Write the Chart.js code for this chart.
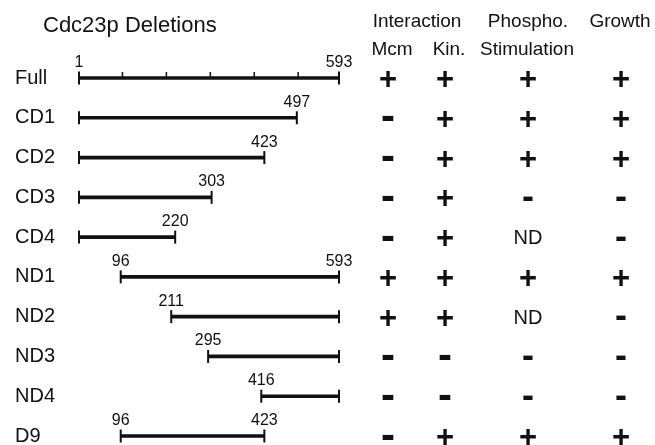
<!DOCTYPE html>
<html>
<head>
<meta charset="utf-8">
<script src="https://cdn.jsdelivr.net/npm/chart.js@4.4.0/dist/chart.umd.min.js"></script>
<style>
  html, body { margin: 0; padding: 0; background: #fff; }
  #wrap { width: 655px; height: 445px; position: relative; }
</style>
</head>
<body>
<div id="wrap"><canvas id="deletionChart"></canvas></div>
<script>
// Konstruk dan sisa residu (1..593)
const rowNames = ['Full', 'CD1', 'CD2', 'CD3', 'CD4', 'ND1', 'ND2', 'ND3', 'ND4', 'D9'];
const startRes = [1, 1, 1, 1, 1, 96, 211, 295, 416, 96];
const endRes = [593, 497, 423, 303, 220, 593, 593, 593, 593, 423];
// Angka mana yang ditulis di atas ujung batang
const startShown = [true, false, false, false, false, true, true, true, true, true];
const endShown = [true, true, true, true, true, true, false, false, false, true];
const scaleTicks = [100, 200, 300, 400, 500];

// Hasil uji
const mcm = ['+', '-', '-', '-', '-', '+', '+', '-', '-', '-'];
const kin = ['+', '+', '+', '+', '+', '+', '+', '-', '-', '+'];
const phospho = ['+', '+', '+', '-', 'ND', '+', 'ND', '-', '-', '+'];
const growth = ['+', '+', '+', '-', '-', '+', '-', '-', '-', '+'];

const FONT = "'Liberation Sans', Arial, Helvetica, sans-serif";
const INK = '#111';

const annotatePlugin = {
    id: 'annotate',
    afterDatasetsDraw(chart) {
        const { ctx, scales: { x, y } } = chart;
        ctx.save();
        ctx.fillStyle = INK;
        ctx.strokeStyle = INK;

        // Skala kecil pada baris Full
        const yFull = y.getPixelForValue(0);
        ctx.lineWidth = 1.5;
        scaleTicks.forEach(t => {
            const px = x.getPixelForValue(t);
            ctx.beginPath();
            ctx.moveTo(px, yFull - 6);
            ctx.lineTo(px, yFull);
            ctx.stroke();
        });

        // Nomor residu di atas ujung batang
        ctx.font = '16px ' + FONT;
        ctx.textAlign = 'center';
        ctx.textBaseline = 'alphabetic';
        rowNames.forEach((name, i) => {
            const py = y.getPixelForValue(i);
            if (startShown[i]) ctx.fillText(String(startRes[i]), x.getPixelForValue(startRes[i]), py - 11);
            if (endShown[i]) ctx.fillText(String(endRes[i]), x.getPixelForValue(endRes[i]), py - 11);
        });

        // Judul dan kepala tabel
        ctx.textAlign = 'left';
        ctx.font = '22px ' + FONT;
        ctx.fillText('Cdc23p Deletions', 43, 32);
        ctx.textAlign = 'center';
        ctx.font = '19px ' + FONT;
        ctx.fillText('Interaction', 417, 27);
        ctx.fillText('Phospho.', 528, 27);
        ctx.fillText('Growth', 620, 27);
        ctx.fillText('Mcm', 392, 55);
        ctx.fillText('Kin.', 449, 55);
        ctx.fillText('Stimulation', 527, 55);

        // Isi tabel
        const columns = [
            { values: mcm, x: 388, minus: 42 },
            { values: kin, x: 445, minus: 42 },
            { values: phospho, x: 528, minus: 36 },
            { values: growth, x: 621, minus: 36 }
        ];
        columns.forEach(col => {
            col.values.forEach((v, i) => {
                const py = y.getPixelForValue(i);
                if (v === '+') {
                    ctx.font = 'bold 31px ' + FONT;
                    ctx.fillText('+', col.x, py + 11);
                } else if (v === '-') {
                    ctx.font = 'bold ' + col.minus + 'px ' + FONT;
                    ctx.fillText('-', col.x, py + col.minus * 0.30);
                } else {
                    ctx.font = '20px ' + FONT;
                    ctx.fillText(v, col.x, py + 7);
                }
            });
        });
        ctx.restore();
    }
};

const capPoints = [];
rowNames.forEach((name, i) => {
    capPoints.push({ x: startRes[i], y: name });
    capPoints.push({ x: endRes[i], y: name });
});

new Chart(document.getElementById('deletionChart').getContext('2d'), {
    type: 'bar',
    data: {
        labels: rowNames,
        datasets: [{
            data: rowNames.map((n, i) => [startRes[i], endRes[i]]),
            backgroundColor: INK,
            borderWidth: 0,
            barThickness: 3,
            clip: false
        }, {
            type: 'scatter',
            data: capPoints,
            pointStyle: 'line',
            rotation: 90,
            radius: 6.5,
            borderWidth: 2,
            borderColor: INK,
            showLine: false,
            clip: false
        }]
    },
    options: {
        indexAxis: 'y',
        responsive: true,
        maintainAspectRatio: false,
        animation: false,
        events: [],
        layout: { padding: { left: 15, right: 316, top: 78, bottom: 7 } },
        plugins: { legend: { display: false }, tooltip: { enabled: false } },
        scales: {
            x: { type: 'linear', min: 1, max: 593, display: false },
            y: {
                type: 'category',
                offset: false,
                grid: { display: false },
                border: { display: false },
                ticks: { crossAlign: 'far', color: INK, font: { family: FONT, size: 20, lineHeight: 0.6 } },
                afterFit(scale) { scale.width = 64; }
            }
        }
    },
    plugins: [annotatePlugin]
});
</script>
</body>
</html>
